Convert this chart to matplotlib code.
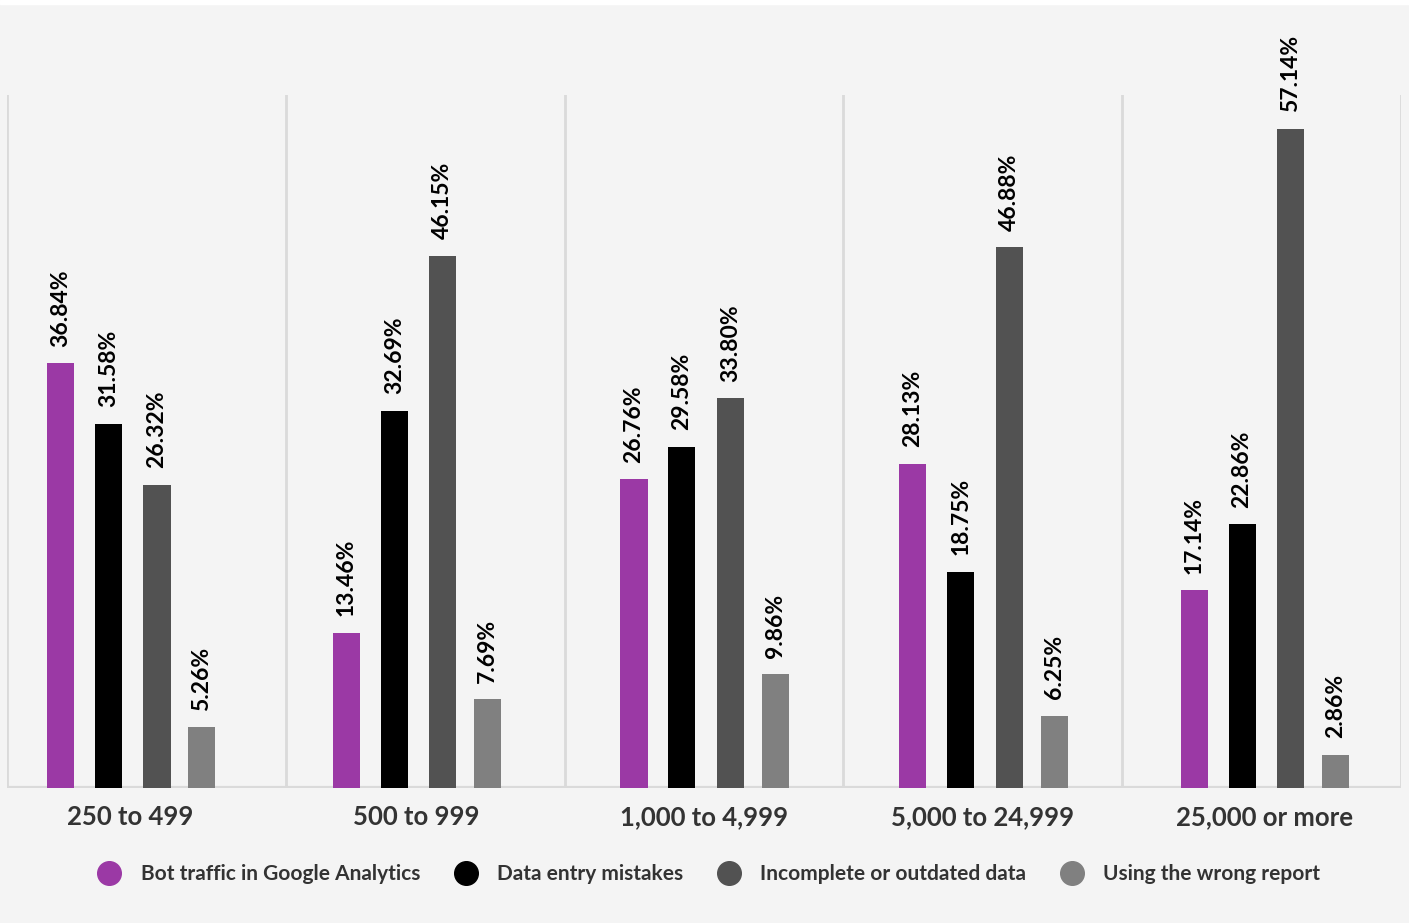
import matplotlib
matplotlib.use('Agg')
import matplotlib.pyplot as plt
from matplotlib.lines import Line2D
from matplotlib.patches import Rectangle
import numpy as np

plt.rcParams['font.family'] = ['Lato', 'DejaVu Sans']

# data
categories = ["250 to 499", "500 to 999", "1,000 to 4,999", "5,000 to 24,999", "25,000 or more"]
series_names = ["Bot traffic in Google Analytics", "Data entry mistakes",
                "Incomplete or outdated data", "Using the wrong report"]
bot_traffic = [36.84, 13.46, 26.76, 28.13, 17.14]
entry_mistakes = [31.58, 32.69, 29.58, 18.75, 22.86]
incomplete_data = [26.32, 46.15, 33.80, 46.88, 57.14]
wrong_report = [5.26, 7.69, 9.86, 6.25, 2.86]
series_values = [bot_traffic, entry_mistakes, incomplete_data, wrong_report]

# layout / style
colors = ["#9B39A5", "#000000", "#525252", "#808080"]
bar_offsets = [-0.251, -0.079, 0.095, 0.256]
group_shift = [-0.057, -0.032, 0.0, 0.0, 0.009]
bar_width = 0.097
bg = "#f4f4f4"
line_col = "#dadada"
text_col = "#333333"

fig = plt.figure(figsize=(14.09, 9.23), dpi=100, facecolor=bg)
ax = fig.add_axes([7 / 1409, 135 / 923, 1394 / 1409, 693 / 923])
ax.set_facecolor(bg)

x = np.arange(len(categories)) + np.array(group_shift)
for vals, off, col in zip(series_values, bar_offsets, colors):
    bars = ax.bar(x + off, vals, width=bar_width, color=col, zorder=3)
    for b, v in zip(bars, vals):
        ax.annotate(f"{v:.2f}%", (b.get_x() + b.get_width() / 2, v),
                    xytext=(0, 12), textcoords="offset points",
                    rotation=90, ha="center", va="bottom",
                    fontsize=16.5, fontweight="bold", color="black",
                    annotation_clip=False)

# separators between groups
for sx in np.arange(-0.5, len(categories), 1.0):
    ax.axvline(sx, color=line_col, lw=2, zorder=1)
ax.axhline(0, color=line_col, lw=3, zorder=2)

ax.set_xlim(-0.5, len(categories) - 0.5)
ax.set_ylim(0, 60.1)
ax.set_yticks([])
ax.set_xticks(x)
ax.set_xticklabels(categories, fontsize=18.5, fontweight="bold", color=text_col)
ax.tick_params(axis="x", length=0, pad=12)
for s in ax.spines.values():
    s.set_visible(False)

handles = [Line2D([], [], marker="o", linestyle="", markersize=17, color=c) for c in colors]
fig.legend(handles, series_names, loc="center", bbox_to_anchor=(0.5, 1 - 874 / 923),
           ncol=4, frameon=False, labelcolor=text_col,
           handlelength=2.0, handletextpad=0.5, columnspacing=1.2,
           prop={"weight": "bold", "size": 15})

fig.add_artist(Rectangle((0, 1 - 4 / 923), 1, 4 / 923, transform=fig.transFigure,
                         color="white", zorder=0))

fig.savefig("out.png", dpi=100, facecolor=bg)
